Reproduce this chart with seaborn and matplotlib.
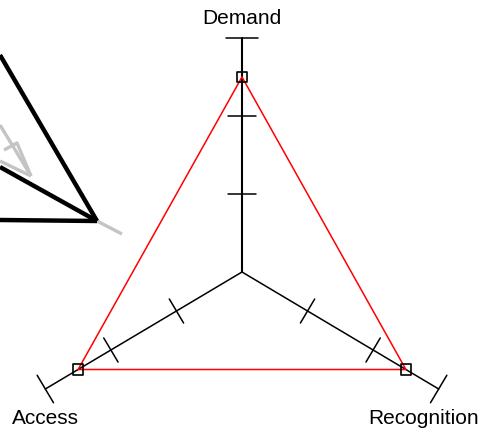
import numpy as np
import pandas as pd
import matplotlib
matplotlib.use("Agg")
import matplotlib.pyplot as plt
import seaborn as sns

# Radar data
axes_names = ["Demand", "Recognition", "Access"]
angles_deg = [90, -30, 210]
values = [2.5, 2.5, 2.5]
axis_max = 3
tick_values = [1, 2]

# Stray stroke shape at top left (pixel coords of the reference)
black_strokes = [[(0, 55), (97, 221)], [(0, 167), (97, 221)], [(0, 220), (97, 221)]]
grey_strokes = [[(0, 125), (31, 176)], [(31, 176), (0, 161)], [(4, 150), (17, 143), (31, 176)],
                [(97, 221), (122, 234)]]

sns.set_style("white")
plt.rcParams["font.family"] = ["Liberation Sans", "DejaVu Sans"]
plt.rcParams["text.color"] = "black"

W, H = 482, 430
cx, cy = 242, 272
ux, uy = 75.7, 78.0  # pixels per data unit


def px(x, y):
    return (x - cx) / ux, (cy - y) / uy


fig = plt.figure(figsize=(W / 100, H / 100), dpi=100)
ax = fig.add_axes([0, 0, 1, 1])

# stray strokes
for s in grey_strokes:
    pts = np.array([px(*p) for p in s])
    ax.plot(pts[:, 0], pts[:, 1], color="#c4c4c4", lw=2.4, solid_capstyle="butt")
for s in black_strokes:
    pts = np.array([px(*p) for p in s])
    ax.plot(pts[:, 0], pts[:, 1], color="black", lw=3.2, solid_capstyle="butt")

# axes spokes, ticks and labels
for name, ang in zip(axes_names, angles_deg):
    a = np.deg2rad(ang)
    d = np.array([np.cos(a), np.sin(a)])
    dp = np.array([d[0] * ux, d[1] * uy])
    dp /= np.linalg.norm(dp)
    n = np.array([-dp[1] / ux, dp[0] / uy])  # perpendicular, per pixel in data units
    ax.plot([0, axis_max * d[0]], [0, axis_max * d[1]], color="black",
            lw=1.5 if ang == 90 else 1.1)
    for t, half in [(tv, 14) for tv in tick_values] + [(axis_max, 16)]:
        p = t * d
        ax.plot([p[0] - half * n[0], p[0] + half * n[0]],
                [p[1] - half * n[1], p[1] + half * n[1]], color="black", lw=1.1)
    end = axis_max * d
    if ang == 90:
        ax.text(end[0], end[1] + 20 / uy, name, ha="center", va="center", fontsize=15)
    elif ang < 0:
        ax.text(end[0] - 15 / ux, end[1] - 30 / uy, name, ha="center", va="center", fontsize=15)
    else:
        ax.text(end[0] + 0 / ux, end[1] - 30 / uy, name, ha="center", va="center", fontsize=15)

# polygon
rad = np.deg2rad(angles_deg)
df = pd.DataFrame({
    "axis": axes_names,
    "x": np.array(values) * np.cos(rad),
    "y": np.array(values) * np.sin(rad),
})
closed = pd.concat([df, df.iloc[:1]], ignore_index=True)
sns.lineplot(data=closed, x="x", y="y", sort=False, estimator=None, color="red",
             lw=1.1, ax=ax, legend=False)
sns.scatterplot(data=df, x="x", y="y", marker="s", s=55, facecolor="none",
                edgecolor="black", linewidth=1.2, ax=ax, legend=False, zorder=5)

ax.set_xlim(px(0, 0)[0], px(W, 0)[0])
ax.set_ylim(px(0, H)[1], px(0, 0)[1])
ax.axis("off")
fig.savefig("out.png", dpi=100)
